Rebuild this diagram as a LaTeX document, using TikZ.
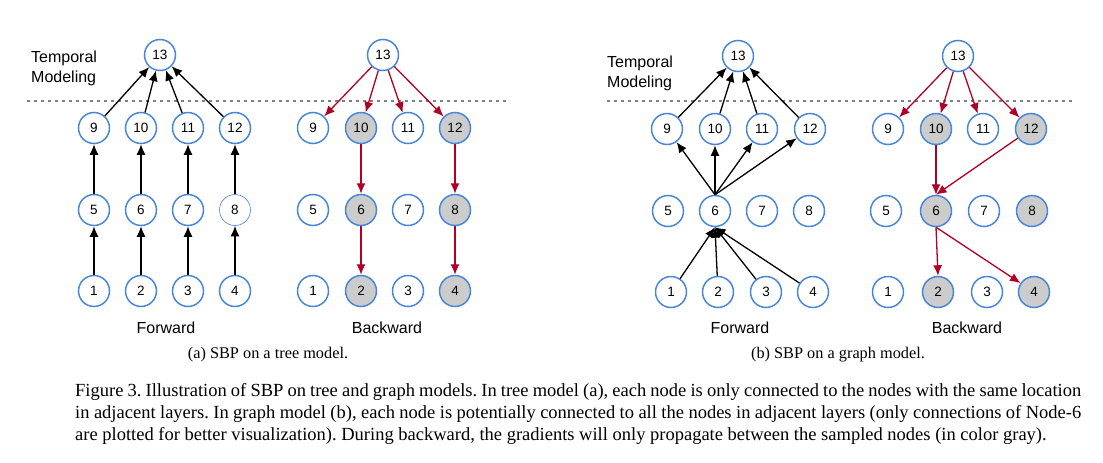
\documentclass[tikz,border=0pt]{standalone}
\usepackage{fontspec}
\setmainfont{Liberation Sans}
\newfontfamily\serifcap{Liberation Serif}
\usetikzlibrary{arrows.meta}
\definecolor{nblue}{RGB}{74,134,216}
\definecolor{ngray}{RGB}{204,204,204}
\definecolor{ared}{RGB}{176,0,38}
\definecolor{dgray}{RGB}{128,128,128}
\begin{document}
\begin{tikzpicture}[x=1pt,y=-1pt,
  nd/.style={circle,draw=nblue,line width=1.5pt,minimum size=31pt,inner sep=0pt,fill=white,font=\fontsize{13.5}{14}\selectfont},
  sel/.style={nd,fill=ngray},
  thinnd/.style={nd,line width=0.6pt},
  fa/.style={-{Latex[length=10.5pt,width=9pt]},line width=1.3pt,black},
  ba/.style={-{Latex[length=10.5pt,width=9pt]},line width=1.3pt,ared},
  lbl/.style={font=\fontsize{16}{18}\selectfont},
  tm/.style={font=\fontsize{16}{20}\selectfont,align=left,anchor=west,inner sep=0pt},
  sep/.style={dgray,line width=1.3pt,dash pattern=on 3pt off 4pt},
  subcap/.style={font=\serifcap\fontsize{16.3}{18}\selectfont},
  capline/.style={font=\serifcap\fontsize{18.5}{22}\selectfont\frenchspacing,anchor=base west,inner sep=0pt}
]
\useasboundingbox (0,0) rectangle (1103,463);
\fill[white] (0,0) rectangle (1103,463);

% ---------------- (a) forward ----------------
\node[tm] (tma) at (31,68) {Temporal\\Modeling};
\coordinate (da1) at (27,101);
\coordinate (da2) at (510,101);
\draw[sep] (da1) -- (da2);

\node[nd] (a13) at (160,55) {13};
\node[nd] (a9)  at (94,128) {9};
\node[nd] (a10) at (141,128) {10};
\node[nd] (a11) at (188,128) {11};
\node[nd] (a12) at (235,128) {12};
\node[nd] (a5)  at (94,210) {5};
\node[nd] (a6)  at (141,210) {6};
\node[nd] (a7)  at (188,210) {7};
\node[thinnd] (a8)  at (235,210) {8};
\node[nd] (a1)  at (94,291) {1};
\node[nd] (a2)  at (141,291) {2};
\node[nd] (a3)  at (188,291) {3};
\node[nd] (a4)  at (235,291) {4};
\foreach \s/\t in {a1/a5,a2/a6,a3/a7,a4/a8,a5/a9,a6/a10,a7/a11,a8/a12,a9/a13,a10/a13,a11/a13,a12/a13}
  \draw[fa] (\s) -- (\t);
\node[lbl] (fwa) at (166,328) {Forward};

% ---------------- (a) backward ----------------
\node[nd] (b13) at (383,55) {13};
\node[nd] (b9)  at (313,128) {9};
\node[sel] (b10) at (361,128) {10};
\node[nd] (b11) at (408,128) {11};
\node[sel] (b12) at (455,128) {12};
\node[nd] (b5)  at (313,210) {5};
\node[sel] (b6)  at (361,210) {6};
\node[nd] (b7)  at (408,210) {7};
\node[sel] (b8)  at (455,210) {8};
\node[nd] (b1)  at (313,291) {1};
\node[sel] (b2)  at (361,291) {2};
\node[nd] (b3)  at (408,291) {3};
\node[sel] (b4)  at (455,291) {4};
\foreach \s/\t in {b13/b9,b13/b10,b13/b11,b13/b12,b10/b6,b6/b2,b12/b8,b8/b4}
  \draw[ba] (\s) -- (\t);
\node[lbl] (bwa) at (387,328) {Backward};

\node[subcap] (capa) at (268,355) {(a) SBP on a tree model.};

% ---------------- (b) forward ----------------
\node[tm] (tmb) at (607,73) {Temporal\\Modeling};
\coordinate (db1) at (607,101);
\coordinate (db2) at (1072,101);
\draw[sep] (db1) -- (db2);

\node[nd] (c13) at (738,56) {13};
\node[nd] (c9)  at (667,129) {9};
\node[nd] (c10) at (715,129) {10};
\node[nd] (c11) at (762,129) {11};
\node[nd] (c12) at (810,129) {12};
\node[nd] (c5)  at (668,211) {5};
\node[nd] (c6)  at (715,211) {6};
\node[nd] (c7)  at (762,211) {7};
\node[nd] (c8)  at (809,211) {8};
\node[nd] (c1)  at (671,292) {1};
\node[nd] (c2)  at (718,292) {2};
\node[nd] (c3)  at (766,292) {3};
\node[nd] (c4)  at (813,292) {4};
\foreach \s in {c1,c2,c3,c4}
  \draw[fa] (\s) -- (c6.south);
\foreach \t in {c9,c10,c11,c12}
  \draw[fa] (c6.north) -- (\t);
\foreach \s in {c9,c10,c11,c12}
  \draw[fa] (\s) -- (c13);
\node[lbl] (fwb) at (740,328) {Forward};

% ---------------- (b) backward ----------------
\node[nd] (d13) at (958,56) {13};
\node[nd] (d9)  at (888,129) {9};
\node[sel] (d10) at (936,129) {10};
\node[nd] (d11) at (983,129) {11};
\node[sel] (d12) at (1031,129) {12};
\node[nd] (d5)  at (886,211) {5};
\node[sel] (d6)  at (936,211) {6};
\node[nd] (d7)  at (984,211) {7};
\node[sel] (d8)  at (1032,211) {8};
\node[nd] (d1)  at (888,292) {1};
\node[sel] (d2)  at (938,292) {2};
\node[nd] (d3)  at (987,292) {3};
\node[sel] (d4)  at (1034,292) {4};
\foreach \s/\t in {d13/d9,d13/d10,d13/d11,d13/d12}
  \draw[ba] (\s) -- (\t);
\draw[ba] (d10) -- (d6.north);
\draw[ba] (d12) -- (d6.north);
\draw[ba] (d6.south) -- (d2.north);
\draw[ba] (d6.south) -- (d4);
\node[lbl] (bwb) at (967,328) {Backward};

\node[subcap] (capb) at (838,355) {(b) SBP on a graph model.};

% ---------------- caption ----------------
\node[capline] (cl1) at (75,396) {\makebox[1006pt][s]{Figure 3. Illustration of SBP on tree and graph models. In tree model (a), each node is only connected to the nodes with the same location}};
\node[capline] (cl2) at (75,418) {\makebox[1006pt][s]{in adjacent layers. In graph model (b), each node is potentially connected to all the nodes in adjacent layers (only connections of Node-6}};
\node[capline] (cl3) at (75,440) {are plotted for better visualization). During backward, the gradients will only propagate between the sampled nodes (in color gray).};
\end{tikzpicture}
\end{document}
